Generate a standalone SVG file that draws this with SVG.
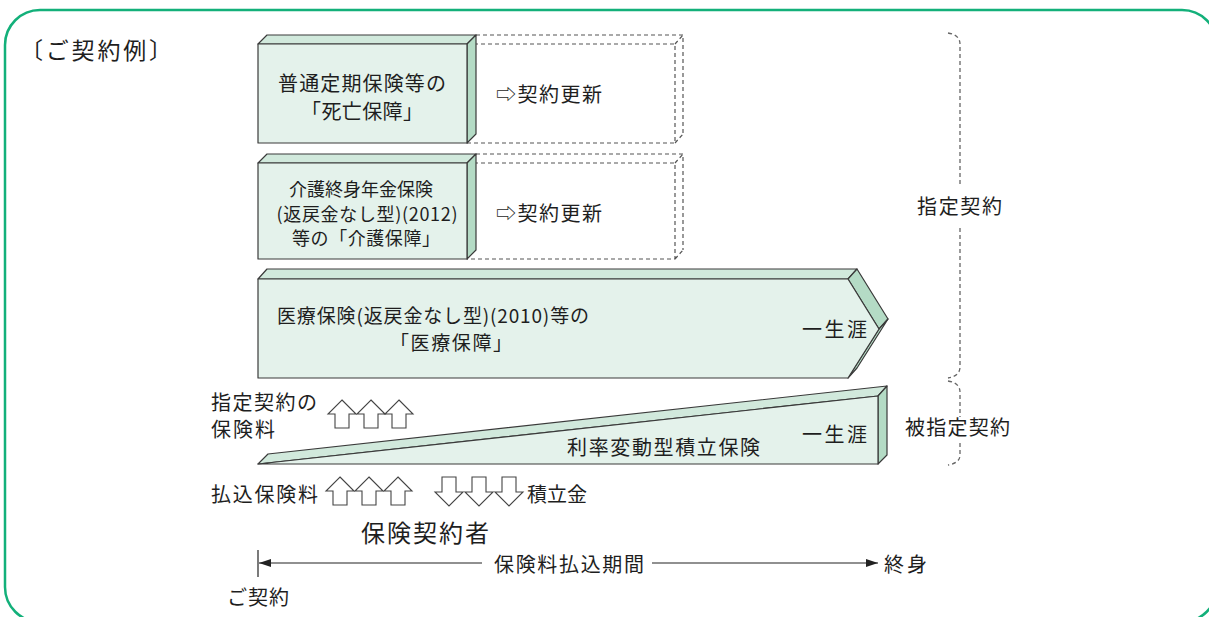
<svg xmlns="http://www.w3.org/2000/svg" width="1209" height="617" viewBox="0 0 1209 617">
<defs>
<style>
text{font-family:"Noto Sans CJK JP","Noto Sans CJK SC",sans-serif;font-size:20px;fill:#1e1e1e}
.sm{font-size:18px}
.front{fill:#e4f2eb;stroke:#3a3a3a;stroke-width:1.2;stroke-linejoin:round}
.top{fill:#d1e9dc;stroke:#3a3a3a;stroke-width:1.2;stroke-linejoin:round}
.side{fill:#b4dbc5;stroke:#3a3a3a;stroke-width:1.2;stroke-linejoin:round}
.dash{fill:none;stroke:#555;stroke-width:1.2;stroke-dasharray:4 3}
.brace{fill:none;stroke:#666;stroke-width:1.3;stroke-dasharray:4 3}
.harrow{fill:#fff;stroke:#444;stroke-width:1.1;stroke-linejoin:miter}
.tl{fill:none;stroke:#222;stroke-width:1.2}
</style>
<marker id="ah" viewBox="0 0 12 8" refX="12" refY="4" markerWidth="12" markerHeight="8" markerUnits="userSpaceOnUse" orient="auto">
<path d="M0,0 L12,4 L0,8 Z" fill="#222"/>
</marker>
<path id="up" d="M0,0 L14,14 L7,14 L7,28 L-7,28 L-7,14 L-14,14 Z"/>
<path id="down" d="M-7,0 L7,0 L7,15 L14,15 L0,29 L-14,15 L-7,15 Z"/>
</defs>

<rect x="5" y="10" width="1212" height="612" rx="35" ry="35" fill="#fff" stroke="#13b07a" stroke-width="2.5"/>

<text x="20" y="59" style="font-size:23px" textLength="152">〔ご契約例〕</text>

<g id="node-death">
<path class="dash" d="M467,44 H675 V143 H467 M476,35 H683 V134 M675,44 L683,35 M675,143 L683,134"/>
<polygon class="top" points="258,44 267,35 476,35 467,44"/>
<polygon class="side" points="467,44 476,35 476,134 467,143"/>
<rect class="front" x="258" y="44" width="209" height="99"/>
<text x="362" y="91" text-anchor="middle" textLength="168">普通定期保険等の</text>
<text x="362" y="119" text-anchor="middle" textLength="122">「死亡保障」</text>
<text x="496" y="102" textLength="106">⇨契約更新</text>
</g>

<g id="node-care">
<path class="dash" d="M467,163 H675 V259 H467 M476,154 H683 V250 M675,163 L683,154 M675,259 L683,250"/>
<polygon class="top" points="258,163 267,154 476,154 467,163"/>
<polygon class="side" points="467,163 476,154 476,250 467,259"/>
<rect class="front" x="258" y="163" width="209" height="96"/>
<text class="sm" x="361" y="196" text-anchor="middle" textLength="144">介護終身年金保険</text>
<text class="sm" x="367" y="221" text-anchor="middle" textLength="181">(返戻金なし型)(2012)</text>
<text class="sm" x="366" y="245" text-anchor="middle" textLength="148">等の「介護保障」</text>
<text x="496" y="221" textLength="106">⇨契約更新</text>
</g>

<g id="node-medical">
<polygon class="top" points="258,279 267,269 857,269 848,279"/>
<polygon class="side" points="848,279 857,269 888,319 879,329"/>
<polygon class="side" points="879,329 888,319 857,368 848,378"/>
<polygon class="front" points="258,279 848,279 879,329 848,378 258,378"/>
<text x="277" y="323" style="font-size:19px" textLength="312">医療保険(返戻金なし型)(2010)等の</text>
<text x="390" y="350" style="font-size:19px" textLength="122">「医療保障」</text>
<text x="802" y="337" textLength="65">一生涯</text>
</g>

<g id="node-savings">
<polygon class="top" points="258,464 268,454 887,386 878,396"/>
<polygon class="side" points="878,396 887,386 887,455 878,464"/>
<polygon class="front" points="258,464 878,396 878,464"/>
<text x="567" y="455" textLength="193">利率変動型積立保険</text>
<text x="802" y="442" textLength="65">一生涯</text>
</g>

<g id="node-designated">
<path class="brace" d="M948,33 Q960,35 960,44 V185 M960,228 V367 Q960,376 948,378"/>
<text x="917" y="214" textLength="85">指定契約</text>
</g>

<g id="node-nondesignated">
<path class="brace" d="M948,381 Q960,383 960,392 V417 M960,443 V455 Q960,463 948,465"/>
<text x="905" y="435" textLength="105">被指定契約</text>
</g>

<g id="node-premium">
<text x="211" y="410" textLength="106">指定契約の</text>
<text x="211" y="437" textLength="64">保険料</text>
<use href="#up" class="harrow" x="342" y="400"/>
<use href="#up" class="harrow" x="371" y="400"/>
<use href="#up" class="harrow" x="399" y="400"/>
</g>

<g id="node-holder">
<text x="211" y="502" textLength="107">払込保険料</text>
<use href="#up" class="harrow" x="340" y="477"/>
<use href="#up" class="harrow" x="369" y="477"/>
<use href="#up" class="harrow" x="398" y="477"/>
<use href="#down" class="harrow" x="449" y="477"/>
<use href="#down" class="harrow" x="479" y="477"/>
<use href="#down" class="harrow" x="509" y="477"/>
<text x="527" y="502" textLength="60">積立金</text>
<text x="361" y="542" style="font-size:24px" textLength="128">保険契約者</text>
</g>

<g id="connectors">
<line class="tl" x1="258" y1="550" x2="258" y2="577"/>
<line class="tl" x1="482" y1="563" x2="259" y2="563" marker-end="url(#ah)"/>
<line class="tl" x1="652" y1="563" x2="878" y2="563" marker-end="url(#ah)"/>
</g>

<g id="node-timeline">
<text x="494" y="572" textLength="150">保険料払込期間</text>
<text x="884" y="572" textLength="43">終身</text>
<text x="227" y="605" textLength="62">ご契約</text>
</g>
</svg>
